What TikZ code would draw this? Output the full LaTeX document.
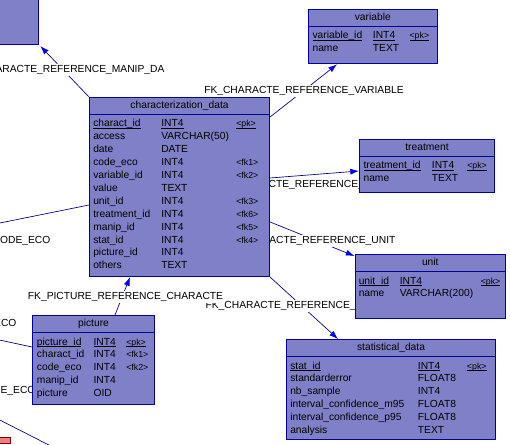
\documentclass[tikz,border=0pt]{standalone}
\usepackage{fontspec}
\setmainfont{Liberation Sans}
\usepackage{tikz}
\usetikzlibrary{arrows.meta, calc, backgrounds}

\definecolor{tblfill}{RGB}{128,128,200}
\definecolor{tblline}{RGB}{0,0,150}
\definecolor{fkline}{RGB}{0,0,120}
\definecolor{fktip}{RGB}{0,0,230}
\definecolor{redfill}{RGB}{240,128,128}
% underline at a fixed depth, whatever the text holds
\newcommand{\pkline}[1]{\setbox0\hbox{#1}\rlap{\rule[-1.3pt]{\wd0}{0.45pt}}\box0}

\begin{document}
\begin{tikzpicture}[x=0.75pt, y=-0.75pt, font=\fontsize{7.7}{9}\selectfont,
   tbl/.style={draw=tblline, fill=tblfill, line width=0.8pt, anchor=north west, inner sep=0pt},
   boxsize/.style 2 args={minimum width=#1*0.75pt, minimum height=#2*0.75pt},
   ttl/.style={anchor=base, inner sep=0pt},
   col/.style={anchor=base west, inner sep=0pt},
   keycol/.style={anchor=base west, inner sep=0pt, font=\fontsize{6.6}{8}\selectfont},
   fk/.style={draw=fkline, line width=0.5pt, -{Latex[length=6.5pt, width=4.5pt, color=fktip]}},
   ref/.style={draw=fkline, line width=0.5pt},
   lbl/.style={fill=white, inner sep=1pt}]
  \useasboundingbox (0,0) rectangle (510,445);

  % tables cut by the border
  \node[tbl, boxsize={48.3}{54}] (manip) at (-10,-10) {};
  \node[tbl, boxsize={20}{6}, draw=red!50!black, fill=redfill] (redtbl) at (-10,437) {};

  % characterization_data
  \node[tbl, boxsize={180}{179}] (cd) at (89,97) {};
  \draw[tblline, line width=0.8pt] ($(cd.north west)+(0,17.5)$) -- ($(cd.north east)+(0,17.5)$);
  \node[ttl] (cd-title) at ($(cd.north)+(0,11.5)$) {characterization\_data};
  \foreach \nm/\ty/\ky [count=\i from 0] in
     {{\pkline{charact\_id}}/{\pkline{INT4}}/{\pkline{<pk>}},
      access/VARCHAR(50)/{}, date/DATE/{}, code\_eco/INT4/<fk1>,
      variable\_id/INT4/<fk2>, value/TEXT/{}, unit\_id/INT4/<fk3>,
      treatment\_id/INT4/<fk6>, manip\_id/INT4/<fk5>, stat\_id/INT4/<fk4>,
      picture\_id/INT4/{}, others/TEXT/{}} {
    \node[col] (cd-n\i) at (93,{127+12.9*\i}) {\nm};
    \node[col] (cd-t\i) at (161,{127+12.9*\i}) {\ty};
    \node[keycol] (cd-k\i) at (236,{127+12.9*\i}) {\ky};
  }

  % variable
  \node[tbl, boxsize={128.5}{54.3}] (variable) at (308,9) {};
  \draw[tblline, line width=0.8pt] ($(variable.north west)+(0,17.5)$) -- ($(variable.north east)+(0,17.5)$);
  \node[ttl] (variable-title) at ($(variable.north)+(0,11.5)$) {variable};
  \foreach \nm/\ty/\ky [count=\i from 0] in
     {{\pkline{variable\_id}}/{\pkline{INT4}}/{\pkline{<pk>}}, name/TEXT/{}} {
    \node[col] (variable-n\i) at (312.3,{39+12.9*\i}) {\nm};
    \node[col] (variable-t\i) at (372.7,{39+12.9*\i}) {\ty};
    \node[keycol] (variable-k\i) at (409.3,{39+12.9*\i}) {\ky};
  }

  % treatment
  \node[tbl, boxsize={135}{53}] (treatment) at (359,139) {};
  \draw[tblline, line width=0.8pt] ($(treatment.north west)+(0,17.5)$) -- ($(treatment.north east)+(0,17.5)$);
  \node[ttl] (treatment-title) at ($(treatment.north)+(0,11.5)$) {treatment};
  \foreach \nm/\ty/\ky [count=\i from 0] in
     {{\pkline{treatment\_id}}/{\pkline{INT4}}/{\pkline{<pk>}}, name/TEXT/{}} {
    \node[col] (treatment-n\i) at (363.3,{169+12.9*\i}) {\nm};
    \node[col] (treatment-t\i) at (431.7,{169+12.9*\i}) {\ty};
    \node[keycol] (treatment-k\i) at (467,{169+12.9*\i}) {\ky};
  }

  % unit
  \node[tbl, boxsize={150.5}{64}] (unit) at (354.5,254) {};
  \draw[tblline, line width=0.8pt] ($(unit.north west)+(0,17.5)$) -- ($(unit.north east)+(0,17.5)$);
  \node[ttl] (unit-title) at ($(unit.north)+(0,11.5)$) {unit};
  \foreach \nm/\ty/\ky [count=\i from 0] in
     {{\pkline{unit\_id}}/{\pkline{INT4}}/{\pkline{<pk>}}, name/VARCHAR(200)/{}} {
    \node[col] (unit-n\i) at (358.5,{284+12.9*\i}) {\nm};
    \node[col] (unit-t\i) at (399.5,{284+12.9*\i}) {\ty};
    \node[keycol] (unit-k\i) at (480.5,{284+12.9*\i}) {\ky};
  }

  % statistical_data
  \node[tbl, boxsize={209}{100}] (stat) at (286,339) {};
  \draw[tblline, line width=0.8pt] ($(stat.north west)+(0,17.5)$) -- ($(stat.north east)+(0,17.5)$);
  \node[ttl] (stat-title) at ($(stat.north)+(0,11.5)$) {statistical\_data};
  \foreach \nm/\ty/\ky [count=\i from 0] in
     {{\pkline{stat\_id}}/{\pkline{INT4}}/{\pkline{<pk>}},
      standarderror/FLOAT8/{}, nb\_sample/INT4/{},
      interval\_confidence\_m95/FLOAT8/{}, interval\_confidence\_p95/FLOAT8/{},
      analysis/TEXT/{}} {
    \node[col] (stat-n\i) at (290,{369+12.9*\i}) {\nm};
    \node[col] (stat-t\i) at (417.7,{369+12.9*\i}) {\ty};
    \node[keycol] (stat-k\i) at (466.7,{369+12.9*\i}) {\ky};
  }

  % picture
  \node[tbl, boxsize={122}{89}] (picture) at (32,315) {};
  \draw[tblline, line width=0.8pt] ($(picture.north west)+(0,17.5)$) -- ($(picture.north east)+(0,17.5)$);
  \node[ttl] (picture-title) at ($(picture.north)+(0,11.5)$) {picture};
  \foreach \nm/\ty/\ky [count=\i from 0] in
     {{\pkline{picture\_id}}/{\pkline{INT4}}/{\pkline{<pk>}},
      charact\_id/INT4/<fk1>, code\_eco/INT4/<fk2>, manip\_id/INT4/{},
      picture/OID/{}} {
    \node[col] (picture-n\i) at (36.7,{345+12.9*\i}) {\nm};
    \node[col] (picture-t\i) at (93.3,{345+12.9*\i}) {\ty};
    \node[keycol] (picture-k\i) at (126,{345+12.9*\i}) {\ky};
  }

  % references, under the tables
  \begin{scope}[on background layer]
    \coordinate (ecoA) at (-10,225);
    \coordinate (ecoB) at (-10,338);
    \coordinate (lowA) at (-10,415);
    \coordinate (lowB) at (50,445.6);
    \draw[fk] (cd.north west) -- ($(manip.south east)+(1,1)$);
    \draw[fk] ($(cd.north east)+(0,20)$) -- ($(variable.south west)+(29,0)$);
    \draw[fk] ($(cd.north east)+(0,81)$) -- ($(treatment.north west)+(0,32)$);
    \draw[fk] ($(cd.north east)+(0,125)$) -- ($(unit.north west)+(0,2)$);
    \draw[fk] (cd.south east) -- ($(stat.north west)+(52,0)$);
    \draw[fk] ($(picture.north west)+(83,0)$) -- ($(cd.south west)+(41,0)$);
    \draw[ref] (ecoA) -- ($(cd.north west)+(0,108)$);
    \draw[ref] (ecoB) -- ($(picture.north west)+(0,32)$);
    \draw[ref] (lowA) -- (lowB);
    % reference names
    \node[lbl, anchor=base east] (l-manip) at (166,72.7) {ARACTE\_REFERENCE\_MANIP\_DA};
    \node[lbl, anchor=base] (l-var) at (304,93.5) {FK\_CHARACTE\_REFERENCE\_VARIABLE};
    \node[lbl, anchor=base west] (l-treat) at (267,187.7) {CTE\_REFERENCE\_};
    \node[lbl, anchor=base east] (l-unit) at (397,243.3) {RACTE\_REFERENCE\_UNIT};
    \node[lbl, anchor=base west] (l-stat) at (204,308.7) {FK\_CHARACTE\_REFERENCE\_};
    \node[lbl, anchor=base] (l-pic) at (125.5,299.2) {FK\_PICTURE\_REFERENCE\_CHARACTE};
    \node[lbl, anchor=base east] (l-eco) at (52,243.7) {CODE\_ECO};
    \node[lbl, anchor=base east] (l-eco2) at (18,326.7) {ECO};
    \node[lbl, anchor=base west] (l-eco3) at (-1,393) {E\_ECO};
  \end{scope}
\end{tikzpicture}
\end{document}
